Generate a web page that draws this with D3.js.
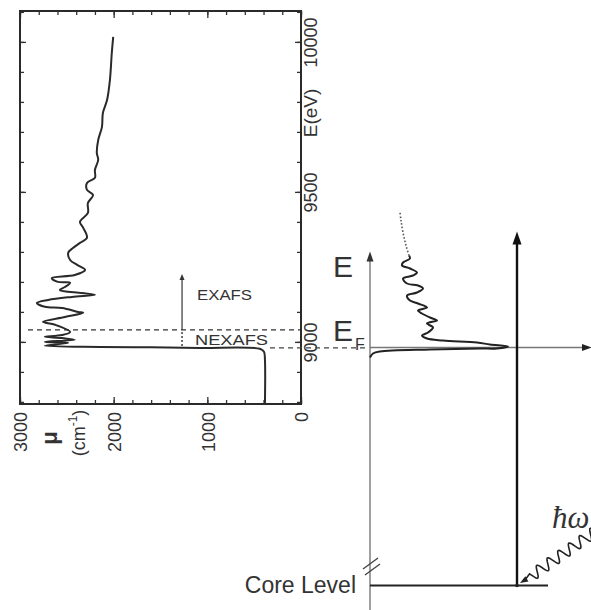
<!DOCTYPE html>
<html>
<head>
<meta charset="utf-8">
<script src="https://cdn.jsdelivr.net/npm/d3@7"></script>
<style>
  body { margin: 0; background: #fff; }
  svg { display: block; }
  text { font-family: "Liberation Sans", Arial, sans-serif; fill: #333; }
</style>
</head>
<body>
<svg id="chart" width="591" height="610"></svg>
<script>
// absorption spectrum (energy in eV, mu in cm^-1)
const xasEnergy = [
  8795, 8940, 8967, 8977, 8980, 8982, 8983, 8987, 8997, 9000,
  9007, 9013, 9017, 9023, 9033, 9057, 9067, 9083, 9097, 9100,
  9113, 9117, 9130, 9140, 9150, 9157, 9163, 9173, 9183, 9197,
  9200, 9213, 9223, 9240, 9257, 9273, 9297, 9313, 9330, 9347,
  9380, 9400, 9430, 9463, 9490, 9507, 9530, 9547, 9573, 9607,
  9630, 9673, 9717, 9763, 9807, 9873, 9963, 10017
];
const xasMu = [
  385, 385, 395, 440, 1080, 1610, 2145, 2735, 2485, 2735,
  2415, 2550, 2735, 2550, 2465, 2625, 2755, 2520, 2325, 2380,
  2550, 2735, 2820, 2700, 2445, 2200, 2340, 2575, 2520, 2465,
  2595, 2660, 2415, 2305, 2390, 2465, 2485, 2435, 2360, 2285,
  2325, 2360, 2275, 2275, 2220, 2285, 2285, 2200, 2200, 2165,
  2180, 2165, 2125, 2115, 2070, 2040, 2020, 2005
];
const muTicks = [3000, 2000, 1000, 0];
const energyTicks = [9000, 9500, 10000];
const edgeEnergy = 8980;      // lower dashed line / E_F
const nexafsEnd = 9040;       // upper dashed line
const exafsArrowTop = 9226;
const exafsArrowMu = 1270;

// schematic on the right (arbitrary units: energy above E_F, intensity)
const dosEnergy = [-10, -6, -4, -2, -1, -1, 1, 3, 5, 7, 9, 12, 15, 20, 24, 27, 30, 34, 37, 40,
  44, 47, 52, 55, 59, 62, 64, 69, 72, 75, 79, 82, 85, 89, 92];
const dosIntensity = [0, 3, 10, 60, 110, 127, 138, 120, 107, 73, 57, 52, 58, 63, 57, 67, 60, 52, 48, 57,
  48, 40, 37, 47, 53, 48, 37, 33, 43, 47, 40, 32, 33, 40, 39];
const tailEnergy = [92, 102, 115, 127, 135];
const tailIntensity = [39, 36, 33, 31, 30];
const coreLevel = -238;

const svg = d3.select("#chart");

// ---------- left panel ----------
const x = d3.scaleLinear().domain([3000, 0]).range([20, 301]);
const y = d3.scaleLinear().domain([8793, 10103]).range([404, 11]);

function styleAxis(g) {
  g.select(".domain").remove();
  g.selectAll(".tick line").attr("stroke", "#333").attr("stroke-width", 1.3);
}

// minor + major ticks on all four sides, pointing inward
svg.append("g").attr("transform", "translate(0,404)")
  .call(d3.axisBottom(x).tickValues(d3.range(0, 3001, 200)).tickSize(-4).tickFormat(""))
  .call(styleAxis);
svg.append("g").attr("transform", "translate(0,11)")
  .call(d3.axisTop(x).tickValues(d3.range(0, 3001, 200)).tickSize(-4).tickFormat(""))
  .call(styleAxis);
svg.append("g").attr("transform", "translate(0,11)")
  .call(d3.axisTop(x).tickValues(muTicks).tickSize(-7).tickFormat(""))
  .call(styleAxis);
svg.append("g").attr("transform", "translate(301,0)")
  .call(d3.axisRight(y).tickValues(d3.range(8800, 10101, 100)).tickSize(-4).tickFormat(""))
  .call(styleAxis);
svg.append("g").attr("transform", "translate(20,0)")
  .call(d3.axisLeft(y).tickValues(d3.range(8800, 10101, 100)).tickSize(-4).tickFormat(""))
  .call(styleAxis);
svg.append("g").attr("transform", "translate(20,0)")
  .call(d3.axisLeft(y).tickValues(energyTicks).tickSize(-6).tickFormat(""))
  .call(styleAxis);

// labelled major ticks
const bottomAxis = svg.append("g").attr("transform", "translate(0,404)")
  .call(d3.axisBottom(x).tickValues(muTicks).tickSize(-7).tickFormat(d3.format("d")))
  .call(styleAxis);
bottomAxis.selectAll("text")
  .attr("transform", "rotate(-90)")
  .attr("x", -8).attr("y", 0).attr("dy", "0.38em")
  .attr("text-anchor", "end")
  .attr("font-size", 18).attr("fill", "#333")
  .style("font-family", "'Liberation Sans', Arial, sans-serif");

const rightAxis = svg.append("g").attr("transform", "translate(301,0)")
  .call(d3.axisRight(y).tickValues(energyTicks).tickSize(-6).tickFormat(d3.format("d")))
  .call(styleAxis);
rightAxis.selectAll("text")
  .attr("transform", "rotate(-90)")
  .attr("x", 0).attr("y", 16).attr("dy", 0)
  .attr("text-anchor", "middle")
  .attr("font-size", 18).attr("fill", "#333")
  .style("font-family", "'Liberation Sans', Arial, sans-serif");

// frame
svg.append("rect")
  .attr("x", x(3000)).attr("y", y(10103))
  .attr("width", x(0) - x(3000)).attr("height", y(8793) - y(10103))
  .attr("fill", "none").attr("stroke", "#2a2a2a").attr("stroke-width", 2);

// axis titles
svg.append("text")
  .attr("transform", "translate(317,113) rotate(-90)")
  .attr("text-anchor", "middle").attr("font-size", 19)
  .text("E(eV)");
svg.append("text")
  .attr("transform", "translate(57,438) rotate(-90)")
  .attr("text-anchor", "middle").attr("font-size", 22).attr("font-weight", "bold")
  .text("μ");
const unit = svg.append("text")
  .attr("transform", "translate(85,433) rotate(-90)")
  .attr("text-anchor", "middle").attr("font-size", 18);
unit.append("tspan").text("(cm");
unit.append("tspan").attr("font-size", 12).attr("dy", -8).text("-1");
unit.append("tspan").attr("dy", 8).text(")");

// dashed region limits
svg.append("line")
  .attr("x1", 28).attr("x2", x(0))
  .attr("y1", y(nexafsEnd)).attr("y2", y(nexafsEnd))
  .attr("stroke", "#333").attr("stroke-width", 1.3).attr("stroke-dasharray", "5,4");
svg.append("line")
  .attr("x1", 270).attr("x2", 368)
  .attr("y1", y(edgeEnergy)).attr("y2", y(edgeEnergy))
  .attr("stroke", "#444").attr("stroke-width", 1.3).attr("stroke-dasharray", "5,4");

// spectrum
const xasData = xasEnergy.map((e, i) => ({ e: e, mu: xasMu[i] }));
svg.append("path")
  .datum(xasData)
  .attr("fill", "none").attr("stroke", "#2a2a2a").attr("stroke-width", 2)
  .attr("stroke-linejoin", "round")
  .attr("d", d3.line().x(d => x(d.mu)).y(d => y(d.e)).curve(d3.curveCatmullRom.alpha(0.5)));

function arrowHead(x0, y0, dx, dy, len, half, color) {
  const n = Math.hypot(dx, dy), ux = dx / n, uy = dy / n;
  const bx = x0 - ux * len, by = y0 - uy * len;
  const pts = [[x0, y0], [bx - uy * half, by + ux * half], [bx + uy * half, by - ux * half]];
  svg.append("path").attr("d", "M" + pts.join("L") + "Z").attr("fill", color);
}

// EXAFS / NEXAFS markers
const ax = x(exafsArrowMu);
svg.append("line")
  .attr("x1", ax).attr("x2", ax)
  .attr("y1", y(nexafsEnd)).attr("y2", y(exafsArrowTop) + 4)
  .attr("stroke", "#333").attr("stroke-width", 1.2);
arrowHead(ax, y(exafsArrowTop), 0, -1, 6, 2.5, "#333");
svg.append("line")
  .attr("x1", ax).attr("x2", ax)
  .attr("y1", y(nexafsEnd) + 2).attr("y2", y(edgeEnergy) - 1)
  .attr("stroke", "#333").attr("stroke-width", 1.4).attr("stroke-dasharray", "2,2");
svg.append("text").attr("x", 197).attr("y", 300).attr("font-size", 14)
  .attr("textLength", 55).attr("lengthAdjust", "spacingAndGlyphs").text("EXAFS");
svg.append("text").attr("x", 195).attr("y", 345).attr("font-size", 14)
  .attr("textLength", 73).attr("lengthAdjust", "spacingAndGlyphs").text("NEXAFS");

// ---------- right schematic ----------
const yR = d3.scaleLinear().domain([0, 100]).range([347.5, 247.5]);
const xR = d3.scaleLinear().domain([0, 100]).range([370, 470]);

// energy axis (left, gray)
svg.append("line")
  .attr("x1", xR(0)).attr("x2", xR(0)).attr("y1", 610).attr("y2", yR(88))
  .attr("stroke", "#888").attr("stroke-width", 1.6);
arrowHead(xR(0), yR(96), 0, -1, 10, 3.5, "#333");

// break marks
svg.append("line").attr("x1", 363).attr("y1", 569).attr("x2", 378).attr("y2", 558)
  .attr("stroke", "#444").attr("stroke-width", 1.4);
svg.append("line").attr("x1", 365).attr("y1", 575).attr("x2", 380).attr("y2", 564)
  .attr("stroke", "#444").attr("stroke-width", 1.4);

// Fermi level axis
svg.append("line")
  .attr("x1", xR(0)).attr("x2", 584).attr("y1", yR(0)).attr("y2", yR(0))
  .attr("stroke", "#777").attr("stroke-width", 1.4);
arrowHead(592, yR(0), 1, 0, 10, 3.5, "#222");

// transition line
svg.append("line")
  .attr("x1", xR(147)).attr("x2", xR(147)).attr("y1", yR(coreLevel) + 1).attr("y2", yR(107))
  .attr("stroke", "#111").attr("stroke-width", 2.4);
arrowHead(xR(147), yR(116), 0, -1, 13, 4.5, "#111");

// core level
svg.append("line")
  .attr("x1", xR(0)).attr("x2", xR(178)).attr("y1", yR(coreLevel)).attr("y2", yR(coreLevel))
  .attr("stroke", "#222").attr("stroke-width", 2);
svg.append("circle").attr("cx", xR(147)).attr("cy", yR(coreLevel)).attr("r", 1.8).attr("fill", "#222");

// schematic absorption curve
const dosData = dosEnergy.map((e, i) => ({ e: e, v: dosIntensity[i] }));
const tailData = tailEnergy.map((e, i) => ({ e: e, v: tailIntensity[i] }));
const dosLine = d3.line().x(d => xR(d.v)).y(d => yR(d.e)).curve(d3.curveCatmullRom.alpha(0.5));
svg.append("path").datum(dosData)
  .attr("fill", "none").attr("stroke", "#222").attr("stroke-width", 2)
  .attr("stroke-linejoin", "round").attr("d", dosLine);
svg.append("path").datum(tailData)
  .attr("fill", "none").attr("stroke", "#555").attr("stroke-width", 1.6)
  .attr("stroke-dasharray", "1.5,2").attr("d", dosLine);

// photon
const p0 = [596, 531], p1 = [531, 576];
const L = Math.hypot(p1[0] - p0[0], p1[1] - p0[1]);
const ux = (p1[0] - p0[0]) / L, uy = (p1[1] - p0[1]) / L;
const wave = d3.range(0, L + 0.01, 0.5).map(s => {
  const a = 5.5 * Math.sin(2 * Math.PI * s / 13);
  return [p0[0] + ux * s - uy * a, p0[1] + uy * s + ux * a];
});
wave.push([525, 580]);
svg.append("path").attr("d", d3.line()(wave))
  .attr("fill", "none").attr("stroke", "#222").attr("stroke-width", 1.6);
arrowHead(520, 583, -1, 0.6, 8, 3, "#222");

// labels
svg.append("text").attr("x", 333).attr("y", 277).attr("font-size", 30).attr("fill", "#222").text("E");
svg.append("text").attr("x", 333).attr("y", 341).attr("font-size", 30).attr("fill", "#222").text("E");
svg.append("text").attr("x", 355).attr("y", 350).attr("font-size", 16).attr("fill", "#888").text("F");
svg.append("text").attr("x", 552).attr("y", 528).attr("font-size", 31)
  .attr("font-style", "italic").attr("fill", "#222")
  .style("font-family", "'Liberation Serif', 'Times New Roman', serif")
  .text("ħω");
svg.append("text").attr("x", 356).attr("y", 593).attr("text-anchor", "end")
  .attr("font-size", 23).attr("fill", "#222").text("Core Level");
</script>
</body>
</html>
